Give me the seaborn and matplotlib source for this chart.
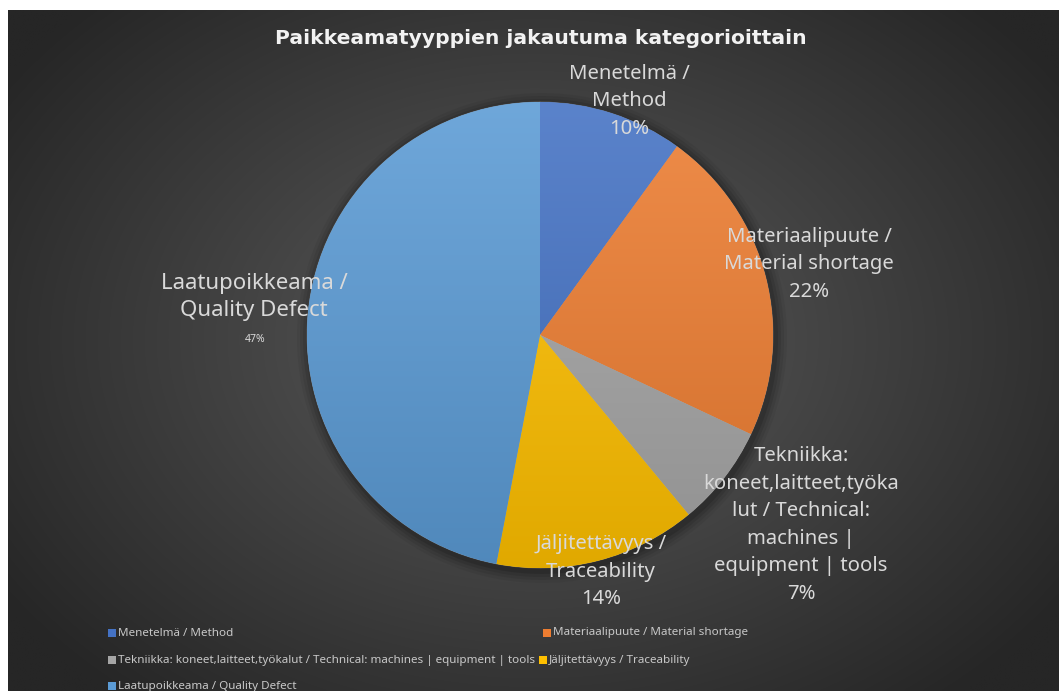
import numpy as np
import matplotlib
matplotlib.use("Agg")
import matplotlib.pyplot as plt
import seaborn as sns
from matplotlib.colors import to_rgb
from matplotlib.patches import Rectangle, Circle

# --- data -------------------------------------------------------------
categories = [
    "Menetelmä / Method",
    "Materiaalipuute / Material shortage",
    "Tekniikka: koneet,laitteet,työkalut / Technical: machines | equipment | tools",
    "Jäljitettävyys / Traceability",
    "Laatupoikkeama / Quality Defect",
]
shares = [10, 22, 7, 14, 47]
slice_labels = [
    "Menetelmä /\nMethod",
    "Materiaalipuute /\nMaterial shortage",
    "Tekniikka:\nkoneet,laitteet,työka\nlut / Technical:\nmachines |\nequipment | tools",
    "Jäljitettävyys /\nTraceability",
    "Laatupoikkeama /\nQuality Defect",
]
title = "Paikkeamatyyppien jakautuma kategorioittain"
colors = ["#4472C4", "#ED7D31", "#A5A5A5", "#FFC000", "#5B9BD5"]

# --- layout (pixel units, y measured from the top) ----------------------
W, H = 1059, 691
CX, CY, R = 540, 335, 233
label_pos = [(629, 101), (809, 264), (801, 525), (601, 572), (254, 297)]
legend_pos = [(112, 633), (547, 633), (112, 660), (543, 660), (112, 686)]

sns.set_theme(style="dark")
plt.rcParams["font.family"] = ["Noto Sans", "DejaVu Sans"]

fig = plt.figure(figsize=(W / 100, H / 100), dpi=100, facecolor="white")
ax = fig.add_axes([0, 0, 1, 1])


def ypx(y):
    return H - y


# radial dark-grey backdrop
gx, gy = np.meshgrid(np.linspace(8, W, 400), np.linspace(0, H - 10, 300))
d = np.sqrt(((gx - 535) / 640) ** 2 + ((gy - ypx(340)) / 470) ** 2)
t = np.clip(d, 0, 1)[..., None]
inner = np.array(to_rgb("#5c5c5c"))
outer = np.array(to_rgb("#262626"))
bg = inner * (1 - t) + outer * t
ax.imshow(bg, extent=(8, W, 0, H - 10), origin="lower", zorder=0,
          interpolation="bilinear", aspect="auto")

# soft shadow around the pie
for k, a in zip([12, 9, 6, 3], [0.05, 0.07, 0.09, 0.12]):
    ax.add_patch(Circle((CX + 2, ypx(CY) - 3), R + k, color="black",
                        alpha=a, lw=0, zorder=1))

wedges, _ = ax.pie(
    shares, colors=colors, startangle=90, counterclock=False,
    center=(CX, ypx(CY)), radius=R, frame=True,
    wedgeprops=dict(linewidth=0.6, edgecolor=(1, 1, 1, 0.25), zorder=2),
)

# vertical light-to-dark shading clipped to each slice
for w, c in zip(wedges, colors):
    base = np.array(to_rgb(c))
    top = base + (1 - base) * 0.12
    bot = base * 0.88
    s = np.linspace(0, 1, 256)[:, None, None]
    grad = np.repeat(bot * (1 - s) + top * s, 2, axis=1)
    im = ax.imshow(grad, extent=(CX - R, CX + R, ypx(CY) - R, ypx(CY) + R),
                   origin="lower", zorder=3, aspect="auto",
                   interpolation="bilinear")
    im.set_clip_path(w)

ax.set_xlim(0, W)
ax.set_ylim(0, H)
ax.axis("off")

label_color = "#d9d9d9"
for i, (lab, val, (lx, ly)) in enumerate(zip(slice_labels, shares, label_pos)):
    if i == 4:
        ax.text(lx, ypx(ly), lab, ha="center", va="center", fontsize=16,
                color=label_color, linespacing=1.42, zorder=5)
        ax.text(lx + 1, ypx(339), f"{val}%", ha="center", va="center",
                fontsize=7.5, color=label_color, zorder=5)
    else:
        ax.text(lx, ypx(ly), f"{lab}\n{val}%", ha="center", va="center",
                fontsize=14.6, color=label_color, linespacing=1.5, zorder=5)

ax.text(541, ypx(38), title, ha="center", va="center", fontsize=14.6,
        fontfamily="DejaVu Sans", fontweight="bold", color="#f2f2f2", zorder=5)

# legend entries
for cat, c, (mx, my) in zip(categories, colors, legend_pos):
    ax.add_patch(Rectangle((mx - 4, ypx(my) - 4), 8, 8, color=c, lw=0, zorder=5))
    ax.text(mx + 6, ypx(my), cat, ha="left", va="center", fontsize=8.4,
            color="#c8c8c8", zorder=5)

fig.savefig("out.png", dpi=100, facecolor="white")
